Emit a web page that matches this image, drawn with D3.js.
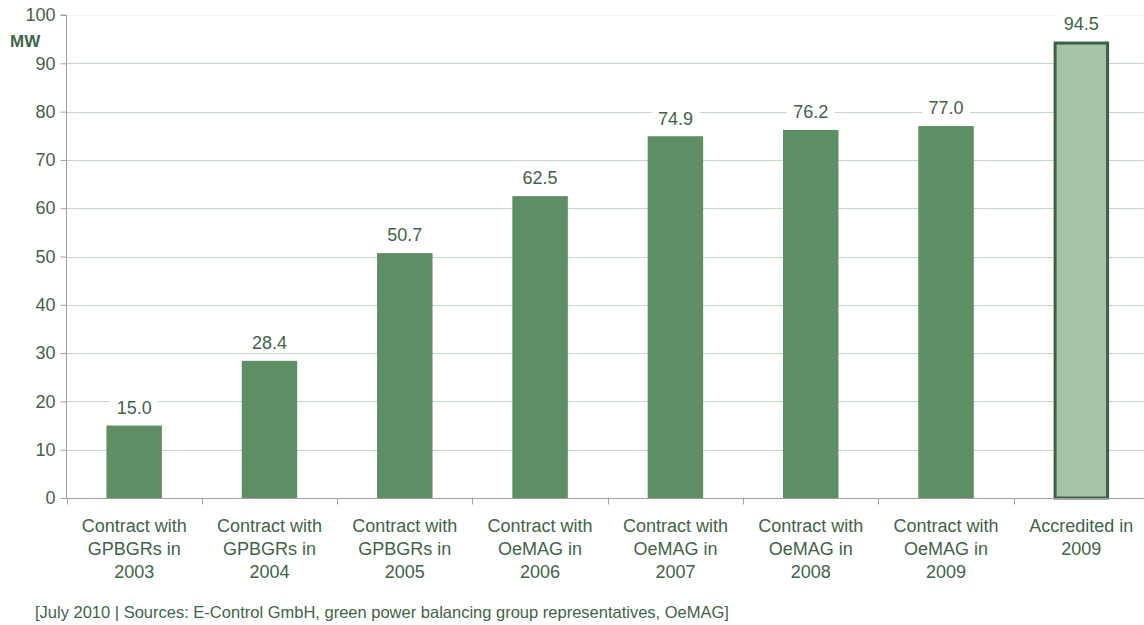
<!DOCTYPE html>
<html><head><meta charset="utf-8">
<script src="https://cdn.jsdelivr.net/npm/d3@7"></script>
<style>body{margin:0;background:#fff;}svg{display:block;font-family:"Liberation Sans",Arial,sans-serif;}</style>
</head><body>
<svg id="c" width="1144" height="625"></svg>
<script>
const categories = [
  ["Contract with","GPBGRs in","2003"],
  ["Contract with","GPBGRs in","2004"],
  ["Contract with","GPBGRs in","2005"],
  ["Contract with","OeMAG in","2006"],
  ["Contract with","OeMAG in","2007"],
  ["Contract with","OeMAG in","2008"],
  ["Contract with","OeMAG in","2009"],
  ["Accredited in","2009"]
];
const values = [15.0, 28.4, 50.7, 62.5, 74.9, 76.2, 77.0, 94.5];
const highlight = [false,false,false,false,false,false,false,true];
const yTicks = [0,10,20,30,40,50,60,70,80,90,100];
const unitLabel = "MW";
const sourceText = "[July 2010 | Sources: E-Control GmbH, green power balancing group representatives, OeMAG]";

const svg = d3.select("#c");
const textCol = "#3f6447";
const x = d3.scaleBand().domain(d3.range(values.length)).range([66.5, 1149]).paddingInner(0.59).paddingOuter(0.295);
const xb = d3.scaleBand().domain(d3.range(values.length)).range([66.5, 1149]);
const y = d3.scaleLinear().domain([0,100]).range([498,15]);

// gridlines
svg.append("g").selectAll("line").data(yTicks.filter(d=>d>0)).join("line")
  .attr("x1",66).attr("x2",1144).attr("y1",d=>Math.round(y(d))+0.5).attr("y2",d=>Math.round(y(d))+0.5)
  .attr("stroke",d=>d===100?"#f0f4f0":"#c3d8c4").attr("stroke-width",1);

// bars
svg.append("g").selectAll("rect").data(values).join("rect")
  .attr("x",(d,i)=>highlight[i]?x(i)+1.5:x(i))
  .attr("width",(d,i)=>highlight[i]?x.bandwidth()-3:x.bandwidth())
  .attr("y",(d,i)=>highlight[i]?y(d)+1.5:y(d))
  .attr("height",(d,i)=>highlight[i]?y(0)-y(d)-1.5:y(0)-y(d))
  .attr("fill",(d,i)=>highlight[i]?"#a6c4a8":"#5e8f64")
  .attr("stroke",(d,i)=>highlight[i]?"#3d5f44":"none")
  .attr("stroke-width",3);

// value labels with white background
const lab = svg.append("g").selectAll("g").data(values).join("g")
  .attr("transform",(d,i)=>`translate(${x(i)+x.bandwidth()/2},${y(d)-18})`);
lab.append("rect").attr("x",-24).attr("y",-12).attr("width",48).attr("height",22).attr("fill","#fff");
lab.append("text").attr("text-anchor","middle").attr("dy","0.35em").attr("font-size",18).attr("fill",textCol)
  .text(d=>d.toFixed(1));

// y axis
const ya = svg.append("g").attr("transform","translate(66.5,0)")
  .call(d3.axisLeft(y).tickValues(yTicks).tickSize(6).tickPadding(5));
ya.select(".domain").attr("stroke","#a0a0a0").attr("d",`M-6,${y(100)}H0V${y(0)}`);
ya.selectAll(".tick line").attr("stroke","#a0a0a0");
ya.selectAll(".tick text").attr("font-size",18).attr("fill",textCol).attr("font-family","Liberation Sans, Arial, sans-serif");

// x axis
const xa = svg.append("g").attr("transform",`translate(0,${Math.round(y(0))+0.5})`);
xa.append("line").attr("x1",66).attr("x2",1144).attr("stroke","#a0a0a0");
xa.selectAll(".tk").data(d3.range(values.length)).join("line").attr("class","tk")
  .attr("x1",i=>Math.round(xb(i))+0.5).attr("x2",i=>Math.round(xb(i))+0.5).attr("y1",0).attr("y2",6).attr("stroke","#a0a0a0");
const ct = xa.selectAll(".cl").data(categories).join("text").attr("class","cl")
  .attr("text-anchor","middle").attr("font-size",18).attr("fill",textCol)
  .attr("transform",(d,i)=>`translate(${xb(i)+xb.bandwidth()/2},33)`);
ct.selectAll("tspan").data(d=>d).join("tspan").attr("x",0).attr("dy",(d,j)=>j===0?0:23).text(d=>d);

// unit label
svg.append("text").attr("x",10).attr("y",47).attr("font-size",17).attr("font-weight","bold").attr("fill",textCol).text(unitLabel);

// source
svg.append("text").attr("x",35).attr("y",618).attr("font-size",16.5).attr("fill",textCol).text(sourceText);
</script>
</body></html>
